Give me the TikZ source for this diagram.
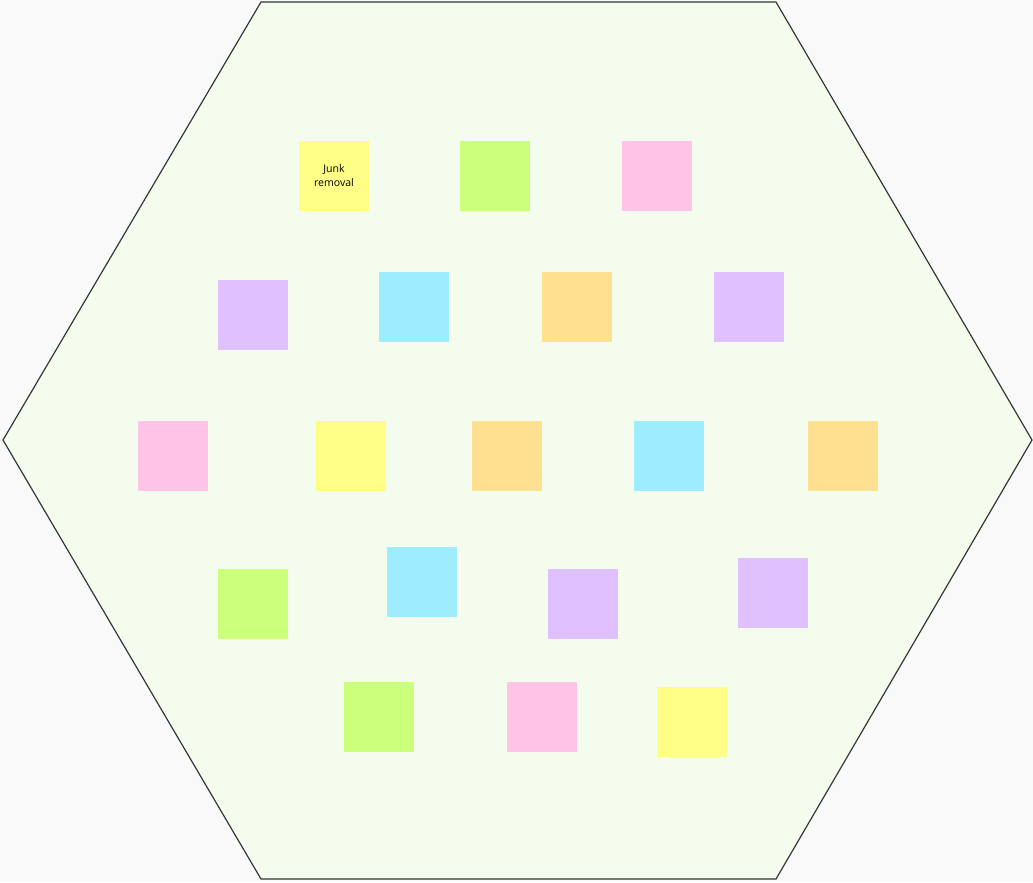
\documentclass[tikz,border=0pt]{standalone}
\usepackage{fontspec}
\setmainfont{Open Sans}
\definecolor{Board_Bg}{HTML}{F9F9F9}
\definecolor{Board_Fill}{HTML}{F4FCEE}
\definecolor{Note_Yellow}{HTML}{FFFF88}
\definecolor{Note_Green}{HTML}{CCFF7A}
\definecolor{Note_Pink}{HTML}{FFC4E6}
\definecolor{Note_Purple}{HTML}{E0C0FF}
\definecolor{Note_Cyan}{HTML}{9EEDFF}
\definecolor{Note_Orange}{HTML}{FFDF90}

\begin{document}
\begin{tikzpicture}[x=0.03cm, y=-0.03cm,
    note/.style={minimum width=2.1cm, minimum height=2.1cm, inner sep=0pt, align=center, font=\fontsize{9}{12}\selectfont}]

    % Background and board
    \fill[Board_Bg] (0,0) rectangle (1033,882);
    \useasboundingbox (0,0) rectangle (1033,882);
    \draw[fill=Board_Fill, draw=black!80, line width=1pt] (261,2) -- (776,2) -- (1032,440) -- (776,879) -- (261,879) -- (3,440) -- cycle;

    % Row 1
    \node[note, fill=Note_Yellow] (junk) at (334,176) {Junk\\removal};
    \node[note, fill=Note_Green] (g1) at (495,176) {};
    \node[note, fill=Note_Pink] (p1) at (657,176) {};

    % Row 2
    \node[note, fill=Note_Purple] (v1) at (253,315) {};
    \node[note, fill=Note_Cyan] (c1) at (414,307) {};
    \node[note, fill=Note_Orange] (o1) at (577,307) {};
    \node[note, fill=Note_Purple] (v2) at (749,307) {};

    % Row 3
    \node[note, fill=Note_Pink] (p2) at (173,456) {};
    \node[note, fill=Note_Yellow] (y2) at (351,456) {};
    \node[note, fill=Note_Orange] (o2) at (507,456) {};
    \node[note, fill=Note_Cyan] (c2) at (669,456) {};
    \node[note, fill=Note_Orange] (o3) at (843,456) {};

    % Row 4
    \node[note, fill=Note_Green] (g2) at (253,604) {};
    \node[note, fill=Note_Cyan] (c3) at (422,582) {};
    \node[note, fill=Note_Purple] (v3) at (583,604) {};
    \node[note, fill=Note_Purple] (v4) at (773,593) {};

    % Row 5
    \node[note, fill=Note_Green] (g3) at (379,717) {};
    \node[note, fill=Note_Pink] (p3) at (542,717) {};
    \node[note, fill=Note_Yellow] (y3) at (692,722) {};
\end{tikzpicture}
\end{document}
